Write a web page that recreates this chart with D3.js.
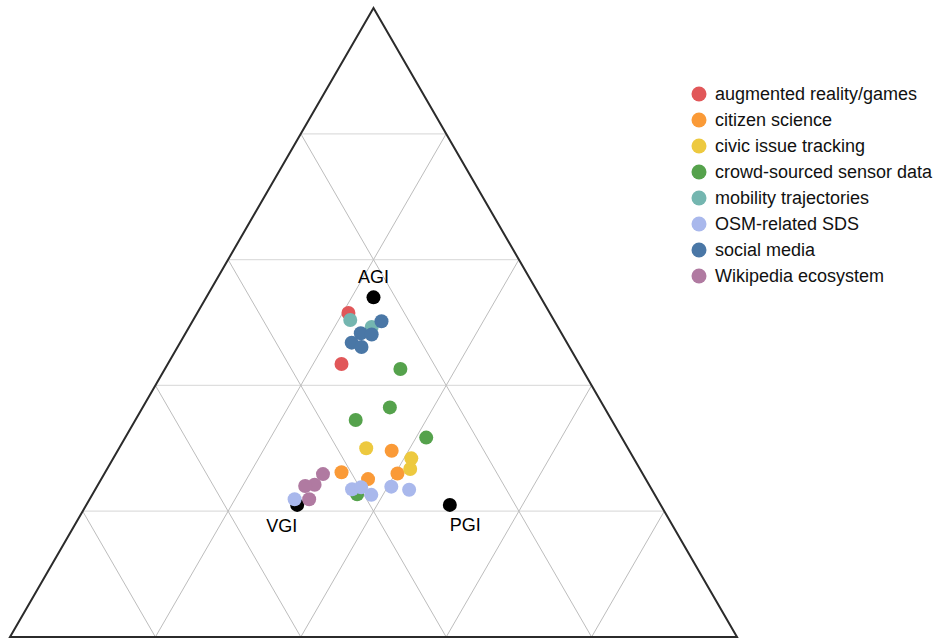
<!DOCTYPE html>
<html>
<head>
<meta charset="utf-8">
<script src="https://cdn.jsdelivr.net/npm/d3@7"></script>
<style>
    body { margin: 0; background: #fff; }
    svg { display: block; font-family: "Liberation Sans", Arial, Helvetica, sans-serif; }
</style>
</head>
<body>
<div id="chart"></div>
<script>
// categories shown in the legend, in drawing order
const categories = [
    "augmented reality/games",
    "citizen science",
    "civic issue tracking",
    "crowd-sourced sensor data",
    "mobility trajectories",
    "OSM-related SDS",
    "social media",
    "Wikipedia ecosystem"
];
const categoryColors = ["#e15759", "#fa9a37", "#edc93f", "#55a24c", "#74b6b0", "#a9b8ec", "#4a77a6", "#b07aa1"];

// each point: [top share, left share, right share] in percent
const augmentedReality = [[51.5, 27.7, 20.8], [43.4, 32.7, 23.9]];
const citizenScience = [[29.6, 32.7, 37.7], [26.2, 41.3, 32.5], [26.0, 33.7, 40.3], [25.1, 38.2, 36.7]];
const civicIssues = [[30.0, 36.0, 34.0], [28.4, 30.6, 41.0], [26.7, 31.6, 41.7]];
const sensorData = [[42.6, 25.0, 32.4], [36.5, 29.5, 34.0], [34.5, 35.2, 30.3], [31.7, 26.9, 41.4], [22.7, 40.9, 36.4]];
const mobility = [[50.4, 28.0, 21.6], [49.3, 25.6, 25.1]];
const osmSds = [[23.5, 41.2, 35.3], [23.8, 39.8, 36.4], [22.6, 39.0, 38.4], [23.9, 35.6, 40.5], [23.4, 33.4, 43.2], [21.9, 49.9, 28.2]];
const socialMedia = [[50.2, 23.8, 26.0], [48.3, 27.6, 24.1], [48.1, 26.2, 25.7], [46.8, 29.6, 23.6], [46.1, 28.6, 25.3]];
const wikipedia = [[25.9, 44.0, 30.1], [24.2, 46.0, 29.8], [24.0, 47.4, 28.6], [21.9, 47.9, 30.2]];

const seriesValues = [augmentedReality, citizenScience, civicIssues, sensorData, mobility, osmSds, socialMedia, wikipedia];

// reference types
const refLabels = ["AGI", "VGI", "PGI"];
const refValues = [[54, 23, 23], [21, 50, 29], [21, 29, 50]];

const gridTicks = [20, 40, 60, 80];

const width = 942;
const height = 639;

const svg = d3.select("#chart")
    .append("svg")
    .attr("width", width)
    .attr("height", height);

// top share drives the vertical position, right share + half of top the horizontal one
const y = d3.scaleLinear().domain([0, 100]).range([637, 8]);
const x = d3.scaleLinear().domain([0, 100]).range([10, 737]);

function project(d) {
    const [t, l, r] = d;
    return [x(r + t / 2), y(t)];
}

const grid = svg.append("g");

// horizontal grid lines (constant top share)
grid.selectAll(".h")
    .data(gridTicks)
    .enter()
    .append("line")
    .attr("x1", k => project([k, 100 - k, 0])[0])
    .attr("y1", k => project([k, 100 - k, 0])[1])
    .attr("x2", k => project([k, 0, 100 - k])[0])
    .attr("y2", k => project([k, 0, 100 - k])[1])
    .attr("stroke", "#dedede")
    .attr("stroke-width", 1.2);

// lines of constant right share
grid.selectAll(".r")
    .data(gridTicks)
    .enter()
    .append("line")
    .attr("x1", k => project([0, 100 - k, k])[0])
    .attr("y1", k => project([0, 100 - k, k])[1])
    .attr("x2", k => project([100 - k, 0, k])[0])
    .attr("y2", k => project([100 - k, 0, k])[1])
    .attr("stroke", "#bdbdbd")
    .attr("stroke-width", 1);

// lines of constant left share
grid.selectAll(".l")
    .data(gridTicks)
    .enter()
    .append("line")
    .attr("x1", k => project([0, k, 100 - k])[0])
    .attr("y1", k => project([0, k, 100 - k])[1])
    .attr("x2", k => project([100 - k, k, 0])[0])
    .attr("y2", k => project([100 - k, k, 0])[1])
    .attr("stroke", "#bdbdbd")
    .attr("stroke-width", 1);

// outline
const corners = [[100, 0, 0], [0, 100, 0], [0, 0, 100]].map(project);
svg.append("path")
    .attr("d", d3.line()(corners) + "Z")
    .attr("fill", "none")
    .attr("stroke", "#2b2b2b")
    .attr("stroke-width", 2)
    .attr("stroke-linejoin", "miter");

// reference points
svg.selectAll(".ref")
    .data(refValues)
    .enter()
    .append("circle")
    .attr("cx", d => project(d)[0])
    .attr("cy", d => project(d)[1])
    .attr("r", 7)
    .attr("fill", "#000");

const labelPlacement = [
    { anchor: "middle", dx: 0, dy: -14 },
    { anchor: "end", dx: 0, dy: 27 },
    { anchor: "start", dx: 0, dy: 26 }
];

svg.selectAll(".ref-label")
    .data(refValues)
    .enter()
    .append("text")
    .attr("x", (d, i) => project(d)[0] + labelPlacement[i].dx)
    .attr("y", (d, i) => project(d)[1] + labelPlacement[i].dy)
    .attr("text-anchor", (d, i) => labelPlacement[i].anchor)
    .style("font-size", "18px")
    .style("fill", "#000")
    .text((d, i) => refLabels[i]);

// data points, one group per category
const series = svg.selectAll(".series")
    .data(seriesValues)
    .enter()
    .append("g")
    .attr("fill", (d, i) => categoryColors[i]);

series.selectAll("circle")
    .data(d => d)
    .enter()
    .append("circle")
    .attr("cx", d => project(d)[0])
    .attr("cy", d => project(d)[1])
    .attr("r", 7);

// legend
const legend = svg.selectAll(".legend")
    .data(categories)
    .enter()
    .append("g")
    .attr("transform", (d, i) => `translate(699, ${94 + i * 26})`);

legend.append("circle")
    .attr("r", 7.5)
    .attr("fill", (d, i) => categoryColors[i]);

legend.append("text")
    .attr("x", 16)
    .attr("y", 6)
    .style("font-size", "18px")
    .style("fill", "#111")
    .text(d => d);
</script>
</body>
</html>
